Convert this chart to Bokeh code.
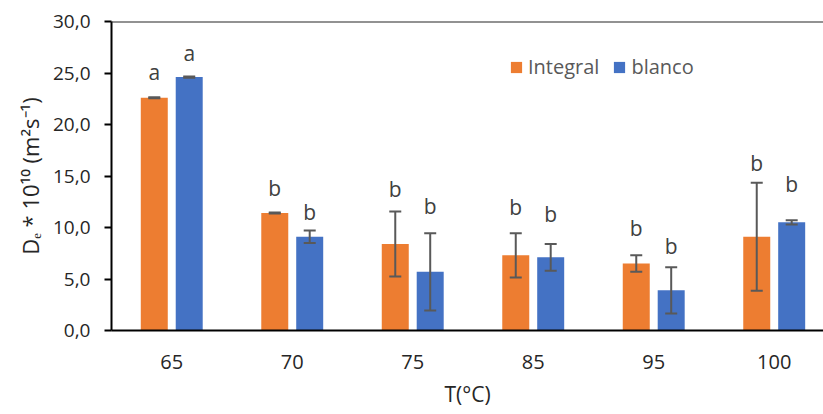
from bokeh.plotting import figure
from bokeh.models import ColumnDataSource, Whisker, TeeHead, Legend, LegendItem, FixedTicker, Span
from bokeh.core.properties import value
from bokeh.embed import file_html
from bokeh.resources import INLINE

# ---- data ----
categories = ["65", "70", "75", "85", "95", "100"]
integral = [22.6, 11.4, 8.4, 7.3, 6.5, 9.1]
integral_err = [0.05, 0.05, 3.15, 2.15, 0.8, 5.25]
blanco = [24.6, 9.1, 5.7, 7.1, 3.9, 10.5]
blanco_err = [0.05, 0.6, 3.75, 1.3, 2.25, 0.2]
integral_letters = ["a", "b", "b", "b", "b", "b"]
blanco_letters = ["a", "b", "b", "b", "b", "b"]
integral_letter_y = [25.1, 13.8, 13.7, 12.0, 10.0, 16.3]
blanco_letter_y = [26.9, 11.5, 12.1, 11.3, 8.25, 14.2]
y_ticks = [0, 5, 10, 15, 20, 25, 30]
y_tick_labels = ["0,0", "5,0", "10,0", "15,0", "20,0", "25,0", "30,0"]

ORANGE = "#ED7D31"
BLUE = "#4472C4"
FONT = "Open Sans"

idx = list(range(len(categories)))
off = 0.145
bw = 0.224

src_i = ColumnDataSource(dict(
    x=[i - off for i in idx], top=integral,
    upper=[v + e for v, e in zip(integral, integral_err)],
    lower=[v - e for v, e in zip(integral, integral_err)],
    letter=integral_letters, ly=integral_letter_y))
src_b = ColumnDataSource(dict(
    x=[i + off for i in idx], top=blanco,
    upper=[v + e for v, e in zip(blanco, blanco_err)],
    lower=[v - e for v, e in zip(blanco, blanco_err)],
    letter=blanco_letters, ly=blanco_letter_y))

p = figure(width=823, height=414, output_backend="svg", toolbar_location=None,
           x_range=(-0.5, 5.409), y_range=(0, 30),
           min_border_left=111, min_border_right=0, min_border_top=21, min_border_bottom=84)
p.outline_line_color = None
p.xgrid.grid_line_color = None
p.ygrid.grid_line_color = None

r_i = p.vbar(x="x", top="top", width=bw, bottom=0, source=src_i, fill_color=ORANGE, line_color=None)
r_b = p.vbar(x="x", top="top", width=bw, bottom=0, source=src_b, fill_color=BLUE, line_color=None)

for s in (src_i, src_b):
    w = Whisker(base="x", upper="upper", lower="lower", source=s, level="annotation",
                line_color="#595959", line_width=2,
                upper_head=TeeHead(size=12, line_color="#595959", line_width=2),
                lower_head=TeeHead(size=12, line_color="#595959", line_width=2))
    p.add_layout(w)
    p.text(x="x", y="ly", text="letter", source=s, text_align="center", text_baseline="middle",
           text_font=value(FONT), text_font_size="21px", text_color="#404040")

p.add_layout(Span(location=30, dimension="width", line_color="#262626", line_width=2))

# axes
p.yaxis.ticker = FixedTicker(ticks=y_ticks)
p.yaxis.major_label_overrides = {t: l for t, l in zip(y_ticks, y_tick_labels)}
p.yaxis.minor_tick_line_color = None
p.yaxis.major_tick_out = 7
p.yaxis.major_tick_in = 0
p.yaxis.major_tick_line_width = 2
p.yaxis.major_tick_line_color = "black"
p.yaxis.axis_line_width = 2
p.yaxis.axis_line_color = "black"
p.yaxis.major_label_standoff = 14
p.yaxis.major_label_text_font = FONT
p.yaxis.major_label_text_font_size = "19px"
p.yaxis.major_label_text_color = "#262626"
p.yaxis.axis_label = "Dₑ * 10¹⁰ (m²s⁻¹)"
p.yaxis.axis_label_standoff = 5
p.yaxis.axis_label_text_font = FONT
p.yaxis.axis_label_text_font_size = "22px"
p.yaxis.axis_label_text_font_style = "normal"
p.yaxis.axis_label_text_color = "#262626"

p.xaxis.ticker = FixedTicker(ticks=idx)
p.xaxis.major_label_overrides = {i: c for i, c in zip(idx, categories)}
p.xaxis.minor_tick_line_color = None
p.xaxis.major_tick_line_color = None
p.xaxis.major_tick_out = 0
p.xaxis.major_tick_in = 0
p.xaxis.axis_line_width = 2
p.xaxis.axis_line_color = "black"
p.xaxis.major_label_standoff = 24
p.xaxis.major_label_text_font = FONT
p.xaxis.major_label_text_font_size = "20px"
p.xaxis.major_label_text_color = "#262626"
p.xaxis.axis_label = "T(°C)"
p.xaxis.axis_label_standoff = 8
p.xaxis.axis_label_text_font = FONT
p.xaxis.axis_label_text_font_size = "21px"
p.xaxis.axis_label_text_font_style = "normal"
p.xaxis.axis_label_text_color = "#262626"

legend = Legend(items=[LegendItem(label="Integral", renderers=[r_i]),
                       LegendItem(label="blanco", renderers=[r_b])],
                orientation="horizontal", location=(398, 250),
                glyph_width=14, glyph_height=14, label_standoff=5, spacing=13,
                padding=0, margin=0, border_line_color=None, background_fill_alpha=0,
                label_text_font=FONT, label_text_font_size="20px", label_text_color="#595959")
p.add_layout(legend)

open("out.html", "w").write(file_html(p, INLINE))
